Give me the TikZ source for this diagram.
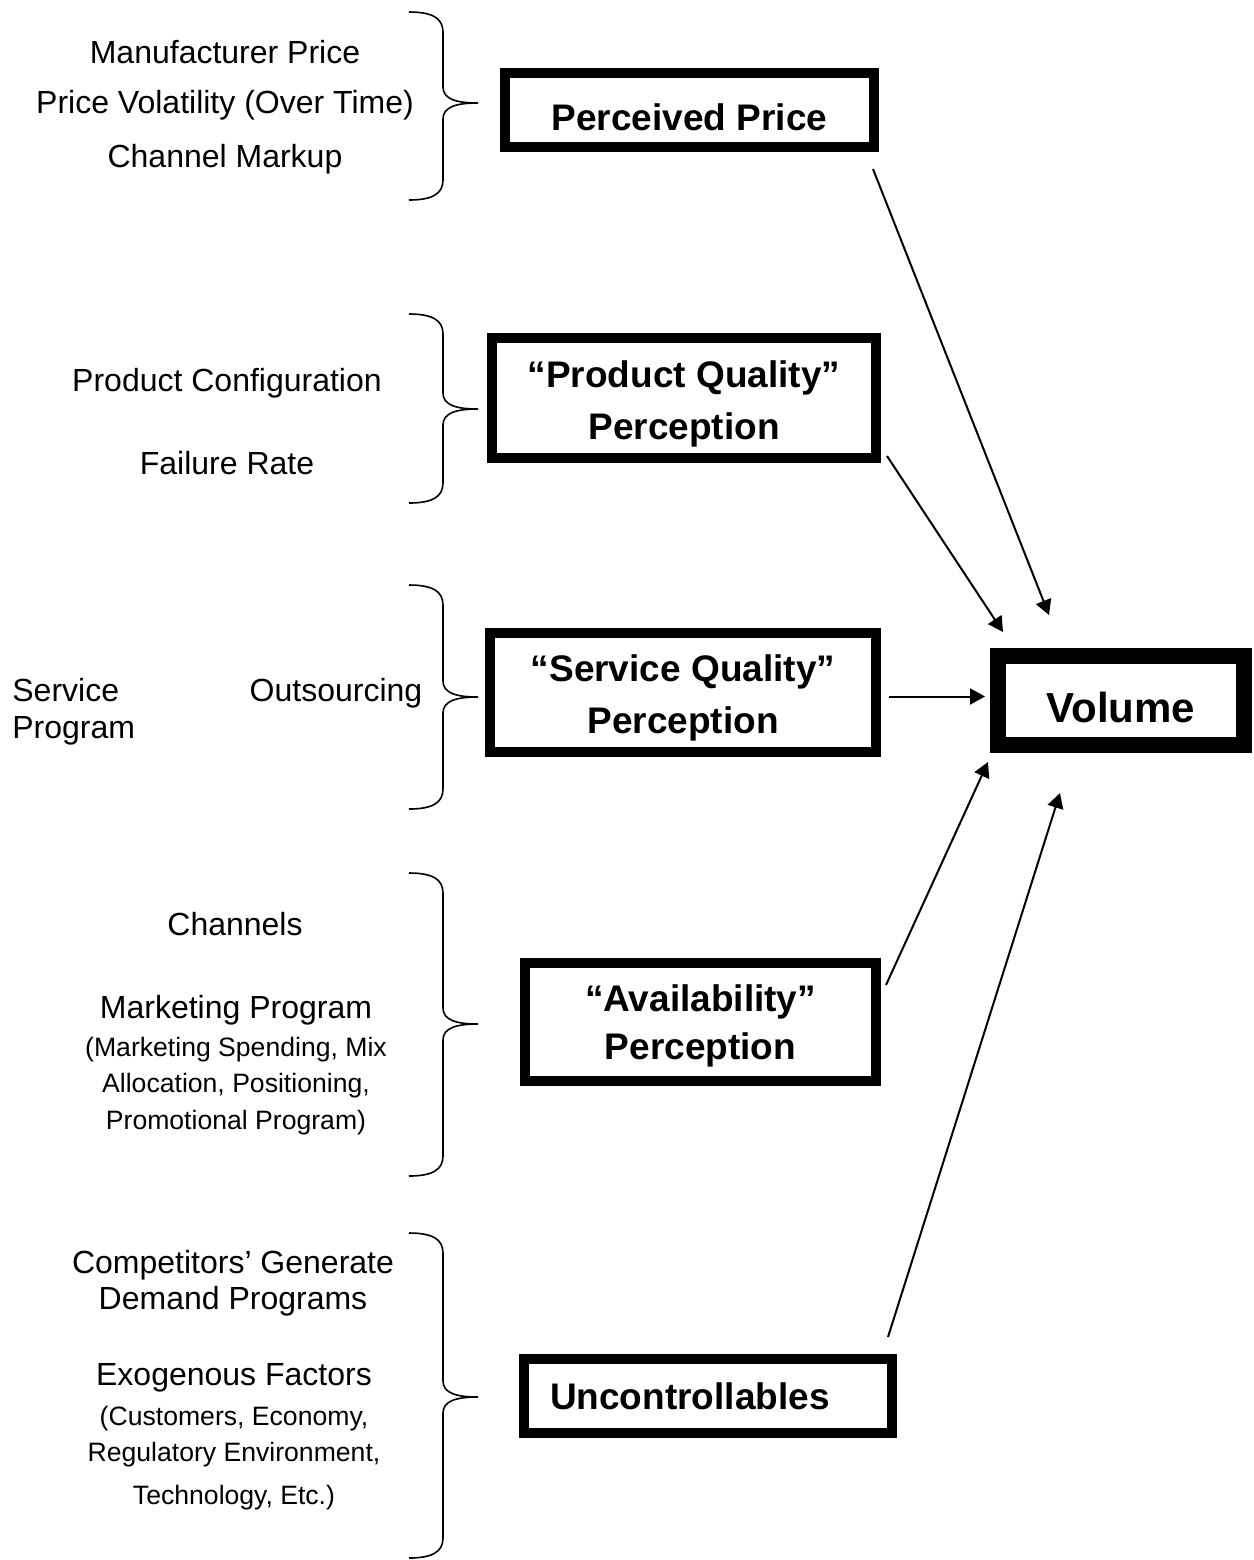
\documentclass[tikz,border=0pt]{standalone}
\usepackage{fontspec}
\setmainfont{Liberation Sans}
\usetikzlibrary{arrows.meta}

\tikzset{
  box/.style={draw, line width=5pt, inner sep=0pt, align=center, font=\bfseries\fontsize{18.5}{26}\selectfont},
  txt/.style={inner sep=0pt, align=center, font=\fontsize{16}{25}\selectfont},
  small/.style={inner sep=0pt, align=center, font=\fontsize{13.3}{18.3}\selectfont},
  arr/.style={line width=1pt, -{Triangle[length=7.5pt,width=8pt]}},
  curly/.style={line width=0.8pt}
}

\begin{document}
\begin{tikzpicture}[x=0.5pt,y=-0.5pt]
        \useasboundingbox (0,0) rectangle (1254,1560);
        % 花括号
        \foreach \t/\m/\b in {12/103/200, 314/409/503, 585/697/809, 873/1024/1176, 1233/1397/1558}
        \draw[curly] (409,\t) .. controls (432,\t) and (443,\t+6) .. (443,\t+20) -- (443,\m-16)
        .. controls (443,\m-4) and (456,\m) .. (478,\m)
        .. controls (456,\m) and (443,\m+4) .. (443,\m+16) -- (443,\b-20)
        .. controls (443,\b-6) and (432,\b) .. (409,\b);
        % 感知方框
        \node[box, minimum width=184.5pt, minimum height=37pt, text height=20pt, text depth=0pt] (pp) at (689.5,110) {Perceived Price};
        \node[box, minimum width=192pt, minimum height=60pt, text height=41.5pt, text depth=0pt] (pq) at (684,398) {“Product Quality”\\Perception};
        \node[box, minimum width=193pt, minimum height=59.5pt, text height=40.5pt, text depth=0pt] (sq) at (683,692.5) {“Service Quality”\\Perception};
        \node[box, minimum width=175.5pt, minimum height=59pt, text height=37pt, text depth=0pt] (av) at (700.5,1022) {“Availability”\\[-2pt]Perception};
        \node[box, minimum height=37pt, text width=158pt, inner xsep=13pt, align=left] (unc) at (708,1396) {Uncontrollables};
        \node[box, line width=8pt, minimum width=123pt, minimum height=44.5pt, text height=22pt, text depth=0pt,
              font=\bfseries\fontsize{21}{25}\selectfont] (vol) at (1121,700.5) {Volume};
        % 左侧因素
        \node[txt] (pricedrv) at (225,107) {Manufacturer Price\\Price Volatility (Over Time)\\[2pt]Channel Markup};
        \node[txt] (config) at (227,383) {Product Configuration};
        \node[txt] (failure) at (227,463) {Failure Rate};
        \node[txt, anchor=west, align=left, font=\fontsize{16}{18.5}\selectfont] (svcprog) at (12,712) {Service\\Program};
        \node[txt] (outsrc) at (336,693) {Outsourcing};
        \node[txt] (chan) at (235,924) {Channels};
        \node[txt] (mktprog) at (236,1010) {Marketing Program};
        \node[small] (mktdet) at (236,1086) {(Marketing Spending, Mix\\Allocation, Positioning,\\Promotional Program)};
        \node[txt, font=\fontsize{16}{18}\selectfont] (compdrv) at (233,1283) {Competitors’ Generate\\Demand Programs};
        \node[txt] (exo) at (234,1378) {Exogenous Factors};
        \node[small] (exodet) at (234,1458) {(Customers, Economy,\\Regulatory Environment,\\[3pt]Technology, Etc.)};
        % 指向销量
        \draw[arr] ([shift={(-6,17)}]pp.south east) -- ([shift={(59,-33)}]vol.north west);
        \draw[arr] ([shift={(6,-7)}]pq.south east) -- ([shift={(13,-16)}]vol.north west);
        \draw[arr] ([shift={(8,4)}]sq.east) -- ([shift={(-5,-4)}]vol.west);
        \draw[arr] ([shift={(5,27)}]av.north east) -- ([shift={(-2,9)}]vol.south west);
        \draw[arr] ([shift={(-9,-17)}]unc.north east) -- ([shift={(70,40)}]vol.south west);
\end{tikzpicture}
\end{document}
